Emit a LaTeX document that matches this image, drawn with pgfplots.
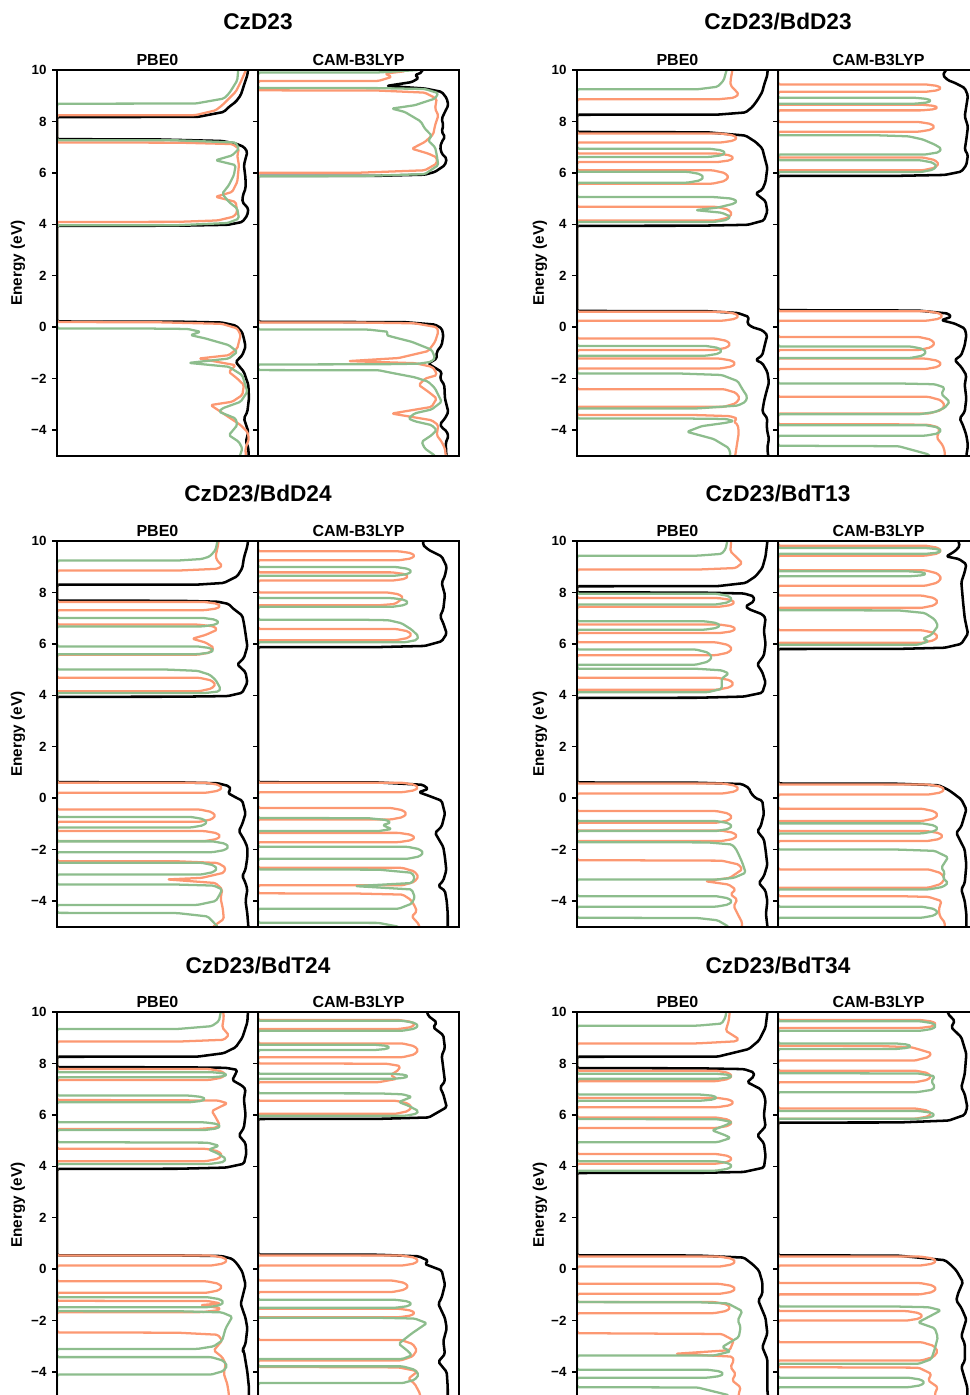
\documentclass[border=0pt]{standalone}
\usepackage{fontspec}
\setmainfont{Liberation Sans}
\usepackage{pgfplots}
\pgfplotsset{compat=1.18}
\definecolor{dosor}{RGB}{252,152,114}
\definecolor{dosgr}{RGB}{141,189,141}
\pgfplotsset{
  dosax/.style={
    scale only axis, width=150.75pt, height=289.3pt,
    xmin=0, xmax=1, ymin=-5, ymax=10,
    xtick=\empty,
    ytick={-4,-2,0,2,4,6,8,10},
    tick align=outside, major tick length=3.4pt,
    ytick pos=left,
    axis line style={line width=1.3pt},
    every tick/.style={line width=1.1pt, black},
    axis on top,
    anchor=north west,
  },
  labax/.style={yticklabels={−4,−2,0,2,4,6,8,10}, yticklabel style={font=\fontsize{10}{12}\selectfont\bfseries, xshift=-1pt}},
  nolab/.style={yticklabels={}},
  kc/.style={black, line width=1.9pt, line join=round, rounded corners=1.2pt},
  oc/.style={dosor, line width=1.7pt, line join=round, rounded corners=1.2pt},
  gc/.style={dosgr, line width=1.7pt, line join=round, rounded corners=1.2pt},
}
\newcommand{\ttl}[3]{\node[font=\fontsize{17}{20}\selectfont\bfseries] at (#1,#2) {#3};}
\newcommand{\sub}[3]{\node[font=\fontsize{12}{14}\selectfont\bfseries] at (#1,#2) {#3};}
\newcommand{\ylab}[2]{\node[rotate=90, font=\fontsize{11.5}{14}\selectfont\bfseries] at (#1,#2) {Energy (eV)};}
\begin{document}
\begin{tikzpicture}
\useasboundingbox (0,0) rectangle (727.5pt,-1046.25pt);
\clip (0,0) rectangle (727.5pt,-1046.25pt);

% ================= Panel 1: CzD23 =================
\begin{axis}[dosax, labax, at={(42.75pt,-52.5pt)}]
\addplot[kc] coordinates {(0.955,-5.3)(0.952,-4.7)(0.94,-4.45)(0.952,-4.07)(0.93,-3.55)(0.947,-3.29)(0.955,-2.77)(0.952,-2.25)(0.93,-1.74)(0.889,-1.35)(0.922,-1.09)(0.938,-0.76)(0.93,-0.44)(0.92,-0.18)(0.89,0.06)(0.82,0.18)(0.6,0.215)(0,0.22)(0,3.94)(0.6,3.945)(0.85,3.98)(0.922,4.09)(0.947,4.35)(0.952,4.61)(0.922,4.87)(0.925,5.13)(0.938,5.39)(0.938,5.78)(0.93,6.3)(0.938,6.55)(0.947,6.81)(0.93,7.01)(0.889,7.14)(0.82,7.24)(0.5,7.30)(0,7.31)(0,8.17)(0.7,8.175)(0.83,8.37)(0.855,8.56)(0.889,8.76)(0.914,9.02)(0.93,9.4)(0.947,9.8)(0.955,10.3)};
\addplot[oc] coordinates {(0.94,-5.3)(0.938,-4.72)(0.955,-4.33)(0.947,-4.07)(0.914,-3.81)(0.839,-3.42)(0.764,-3.03)(0.872,-2.9)(0.922,-2.64)(0.93,-2.25)(0.897,-2.0)(0.855,-1.74)(0.889,-1.48)(0.706,-1.22)(0.855,-1.09)(0.897,-0.83)(0.905,-0.57)(0.914,-0.31)(0.897,-0.05)(0.82,0.13)(0.5,0.19)(0,0.20)(0,4.09)(0.6,4.095)(0.8,4.15)(0.88,4.3)(0.897,4.48)(0.889,4.87)(0.789,5.07)(0.872,5.26)(0.897,5.65)(0.905,6.3)(0.897,6.68)(0.905,6.94)(0.872,7.12)(0.6,7.175)(0,7.18)(0,8.24)(0.689,8.245)(0.789,8.43)(0.822,8.63)(0.855,8.89)(0.889,9.15)(0.914,9.53)(0.94,10.0)(0.94,10.3)};
\addplot[gc] coordinates {(0.897,-5.3)(0.922,-4.72)(0.905,-4.46)(0.855,-4.2)(0.897,-3.81)(0.889,-3.55)(0.806,-3.29)(0.822,-3.16)(0.914,-2.9)(0.947,-2.51)(0.922,-1.87)(0.855,-1.54)(0.656,-1.39)(0.855,-1.22)(0.897,-0.96)(0.855,-0.7)(0.739,-0.44)(0.664,-0.31)(0.714,-0.18)(0.65,-0.07)(0.4,-0.05)(0,-0.05)(0,3.96)(0.6,3.965)(0.85,4.05)(0.905,4.22)(0.897,4.61)(0.855,4.87)(0.822,5.19)(0.855,5.52)(0.88,5.91)(0.889,6.3)(0.789,6.49)(0.872,6.68)(0.905,6.94)(0.889,7.18)(0.6,7.265)(0,7.27)(0,8.69)(0.689,8.695)(0.83,8.89)(0.855,9.08)(0.872,9.28)(0.897,9.6)(0.905,10.3)};
\end{axis}
\begin{axis}[dosax, nolab, at={(193.5pt,-52.5pt)}]
\addplot[kc] coordinates {(0.939,-5.3)(0.934,-4.5)(0.947,-4.25)(0.939,-4.05)(0.914,-3.9)(0.906,-3.77)(0.93,-3.55)(0.947,-3.3)(0.93,-2.77)(0.927,-2.25)(0.906,-2.0)(0.914,-1.74)(0.847,-1.42)(0.889,-1.22)(0.889,-0.96)(0.914,-0.7)(0.922,-0.31)(0.914,-0.05)(0.881,0.1)(0.73,0.195)(0,0.21)(0,5.88)(0.6,5.885)(0.83,5.93)(0.881,6.04)(0.93,6.3)(0.939,6.55)(0.914,6.75)(0.906,7.0)(0.914,7.2)(0.93,7.4)(0.914,7.6)(0.922,7.85)(0.914,8.1)(0.93,8.37)(0.947,8.63)(0.939,8.9)(0.914,9.15)(0.83,9.28)(0.64,9.38)(0.765,9.53)(0.8,9.69)(0.78,9.8)(0.814,9.9)(0.83,10.3)};
\addplot[oc] coordinates {(0.939,-5.3)(0.93,-4.72)(0.914,-4.46)(0.889,-4.2)(0.897,-3.81)(0.864,-3.62)(0.765,-3.49)(0.665,-3.36)(0.765,-3.23)(0.864,-3.1)(0.889,-2.77)(0.847,-2.51)(0.8,-2.25)(0.831,-2.0)(0.889,-1.87)(0.881,-1.67)(0.864,-1.54)(0.781,-1.4)(0.449,-1.32)(0.7,-1.2)(0.847,-0.93)(0.881,-0.57)(0.897,-0.18)(0.889,0.0)(0.78,0.15)(0.5,0.18)(0,0.18)(0,6.0)(0.5,6.005)(0.83,6.1)(0.889,6.36)(0.889,6.6)(0.847,6.75)(0.765,6.94)(0.83,7.2)(0.872,7.5)(0.881,7.85)(0.897,8.23)(0.881,8.5)(0.889,8.88)(0.83,9.12)(0.6,9.2)(0,9.21)(0,9.57)(0.6,9.575)(0.665,9.73)(0.632,9.86)(0.73,9.95)(0.765,10.3)};
\addplot[gc] coordinates {(0.897,-5.3)(0.881,-5.0)(0.83,-4.72)(0.814,-4.46)(0.864,-4.2)(0.889,-4.0)(0.864,-3.81)(0.78,-3.66)(0.748,-3.55)(0.78,-3.35)(0.864,-3.2)(0.914,-2.9)(0.897,-2.64)(0.881,-2.38)(0.847,-2.12)(0.78,-1.95)(0.68,-1.8)(0.6,-1.675)(0,-1.67)(0,-1.45)(0.6,-1.445)(0.8,-1.42)(0.86,-1.35)(0.881,-1.2)(0.864,-0.88)(0.765,-0.57)(0.665,-0.37)(0.638,-0.31)(0.648,-0.18)(0.55,-0.095)(0,-0.09)(0,5.87)(0.5,5.875)(0.83,5.95)(0.897,6.3)(0.889,6.7)(0.881,7.0)(0.847,7.25)(0.864,7.45)(0.83,7.72)(0.81,8.0)(0.73,8.37)(0.665,8.5)(0.78,8.63)(0.881,8.89)(0.897,9.1)(0.83,9.26)(0.6,9.295)(0,9.30)(0,9.9)(0.6,9.905)(0.8,10.0)(0.81,10.3)};
\end{axis}

% ================= Panel 2: CzD23/BdD23 =================
\begin{axis}[dosax, labax, at={(432.75pt,-52.5pt)}]
\addplot[kc] coordinates {(0.955,-5.3)(0.947,-4.7)(0.955,-4.33)(0.947,-4.07)(0.944,-3.81)(0.947,-3.55)(0.922,-3.29)(0.93,-2.9)(0.938,-2.64)(0.955,-2.15)(0.947,-1.74)(0.922,-1.4)(0.889,-1.28)(0.922,-1.09)(0.93,-0.83)(0.938,-0.57)(0.947,-0.31)(0.922,-0.12)(0.872,0.0)(0.847,0.14)(0.855,0.4)(0.8,0.55)(0.65,0.62)(0,0.63)(0,3.94)(0.6,3.945)(0.85,3.98)(0.93,4.15)(0.947,4.5)(0.938,4.9)(0.889,5.2)(0.922,5.35)(0.938,5.65)(0.947,6.2)(0.93,6.7)(0.922,6.95)(0.889,7.2)(0.839,7.45)(0.65,7.575)(0,7.59)(0,8.26)(0.7,8.265)(0.839,8.35)(0.872,8.56)(0.897,8.82)(0.922,9.15)(0.93,9.4)(0.947,9.8)(0.95,10.3)};
\addplot[oc] coordinates {(0.78,-5.3)(0.789,-4.9)(0.797,-4.5)(0.805,-4.1)(0.8,-3.8)(0.78,-3.67)(0.797,-3.55)(0.76,-3.46)(0.6,-3.42)(0,-3.42)
(0,-3.10)(0.73,-3.10)(0.79,-2.962)(0.81,-2.755)(0.79,-2.548)(0.73,-2.41)(0,-2.41)
(0,-1.61)(0.709,-1.61)(0.769,-1.532)(0.789,-1.415)(0.769,-1.298)(0.709,-1.22)(0,-1.22)
(0,-0.89)(0.684,-0.89)(0.744,-0.80)(0.764,-0.665)(0.744,-0.53)(0.684,-0.44)(0,-0.44)
(0,0.25)(0.725,0.25)(0.785,0.32)(0.805,0.425)(0.785,0.53)(0.725,0.60)(0,0.60)
(0,4.15)(0.692,4.15)(0.752,4.256)(0.772,4.415)(0.752,4.574)(0.692,4.68)(0,4.68)
(0,5.58)(0.675,5.58)(0.735,5.684)(0.755,5.84)(0.735,5.996)(0.675,6.10)(0,6.10)
(0,6.42)(0.70,6.42)(0.76,6.486)(0.78,6.585)(0.76,6.684)(0.70,6.75)(0,6.75)
(0,7.18)(0.717,7.18)(0.777,7.25)(0.797,7.355)(0.777,7.46)(0.717,7.53)(0,7.53)
(0,8.86)(0.7,8.86)(0.78,8.92)(0.805,9.05)(0.789,9.2)(0.764,9.4)(0.764,9.6)(0.78,10.3)};
\addplot[gc] coordinates {(0.75,-5.3)(0.764,-4.95)(0.755,-4.7)(0.68,-4.35)(0.547,-4.07)(0.62,-3.85)(0.74,-3.72)(0.78,-3.65)(0.74,-3.57)(0.5,-3.55)(0,-3.55)
(0,-3.16)(0.6,-3.16)(0.8,-3.05)(0.839,-2.9)(0.847,-2.7)(0.822,-2.4)(0.8,-2.1)(0.72,-1.86)(0.5,-1.80)(0,-1.80)
(0,-1.11)(0.642,-1.11)(0.702,-1.034)(0.722,-0.92)(0.702,-0.806)(0.642,-0.73)(0,-0.73)
(0,4.09)(0.68,4.09)(0.745,4.17)(0.764,4.3)(0.72,4.45)(0.59,4.55)(0.70,4.65)(0.78,4.8)(0.797,4.9)(0.77,5.0)(0.68,5.06)(0,5.06)
(0,5.62)(0.551,5.62)(0.611,5.704)(0.631,5.83)(0.611,5.956)(0.551,6.04)(0,6.04)
(0,6.62)(0.659,6.62)(0.719,6.684)(0.739,6.78)(0.719,6.876)(0.659,6.94)(0,6.94)
(0,9.25)(0.6,9.25)(0.70,9.35)(0.73,9.6)(0.755,10.3)};
\end{axis}
\begin{axis}[dosax, nolab, at={(583.5pt,-52.5pt)}]
\addplot[kc] coordinates {(0.945,-5.3)(0.937,-5.0)(0.945,-4.6)(0.937,-4.2)(0.92,-3.81)(0.904,-3.55)(0.929,-3.29)(0.937,-2.77)(0.929,-2.25)(0.937,-1.87)(0.912,-1.55)(0.879,-1.28)(0.912,-1.09)(0.929,-0.7)(0.937,-0.31)(0.929,-0.05)(0.879,0.14)(0.813,0.27)(0.862,0.4)(0.846,0.53)(0.7,0.645)(0,0.66)(0,5.88)(0.6,5.885)(0.83,5.92)(0.912,6.05)(0.937,6.3)(0.945,6.7)(0.929,6.9)(0.937,7.3)(0.945,7.8)(0.929,8.2)(0.937,8.6)(0.945,9.0)(0.929,9.3)(0.88,9.5)(0.846,9.6)(0.821,9.79)(0.83,9.95)(0.88,10.3)};
\addplot[oc] coordinates {(0.83,-5.3)(0.83,-4.85)(0.82,-4.6)(0.79,-4.3)(0.80,-4.1)(0.80,-3.9)(0.75,-3.8)(0.6,-3.78)(0,-3.78)
(0,-3.36)(0.75,-3.36)(0.81,-3.23)(0.83,-3.035)(0.81,-2.84)(0.75,-2.71)(0,-2.71)
(0,-1.63)(0.733,-1.63)(0.793,-1.548)(0.813,-1.425)(0.793,-1.302)(0.733,-1.22)(0,-1.22)
(0,-0.89)(0.70,-0.89)(0.76,-0.788)(0.78,-0.635)(0.76,-0.482)(0.70,-0.38)(0,-0.38)
(0,0.25)(0.74,0.25)(0.80,0.324)(0.82,0.435)(0.80,0.546)(0.74,0.62)(0,0.62)
(0,6.1)(0.72,6.1)(0.78,6.2)(0.80,6.35)(0.78,6.5)(0.72,6.6)(0,6.6)
(0,7.6)(0.70,7.6)(0.76,7.676)(0.78,7.79)(0.76,7.904)(0.70,7.98)(0,7.98)
(0,8.43)(0.716,8.43)(0.776,8.474)(0.796,8.54)(0.776,8.606)(0.716,8.65)(0,8.65)
(0,9.15)(0.733,9.15)(0.793,9.208)(0.813,9.295)(0.793,9.382)(0.733,9.44)(0,9.44)(0,10.3)};
\addplot[gc] coordinates {(0.78,-5.3)(0.75,-4.95)(0.6,-4.63)(0,-4.61)
(0,-4.22)(0.733,-4.22)(0.793,-4.138)(0.813,-4.015)(0.793,-3.892)(0.733,-3.81)(0,-3.81)
(0,-3.39)(0.7,-3.39)(0.78,-3.3)(0.829,-3.14)(0.854,-2.9)(0.813,-2.6)(0.829,-2.35)(0.78,-2.22)(0.6,-2.19)(0,-2.19)
(0,-1.2)(0.658,-1.2)(0.718,-1.11)(0.738,-0.975)(0.718,-0.84)(0.658,-0.75)(0,-0.75)
(0,6.03)(0.71,6.03)(0.77,6.122)(0.79,6.26)(0.77,6.398)(0.71,6.49)(0,6.49)
(0,6.71)(0.73,6.71)(0.80,6.8)(0.813,6.94)(0.78,7.1)(0.72,7.3)(0.65,7.42)(0.5,7.46)(0,7.46)
(0,8.69)(0.683,8.69)(0.743,8.736)(0.763,8.805)(0.743,8.874)(0.683,8.92)(0,8.92)(0,10.3)};
\end{axis}

% ================= Panel 3: CzD23/BdD24 =================
\begin{axis}[dosax, labax, at={(42.75pt,-405.75pt)}]
\addplot[kc] coordinates {(0.955,-5.3)(0.947,-4.5)(0.938,-4.0)(0.947,-3.55)(0.938,-3.3)(0.922,-3.03)(0.938,-2.77)(0.947,-2.3)(0.947,-1.9)(0.93,-1.6)(0.905,-1.28)(0.922,-1.0)(0.938,-0.6)(0.922,-0.1)(0.889,0.03)(0.85,0.2)(0.864,0.34)(0.855,0.47)(0.8,0.58)(0.6,0.615)(0,0.62)(0,3.94)(0.6,3.945)(0.85,3.97)(0.922,4.1)(0.947,4.5)(0.938,4.9)(0.897,5.2)(0.93,5.45)(0.947,5.9)(0.938,6.4)(0.93,6.8)(0.922,7.1)(0.872,7.4)(0.855,7.55)(0.8,7.64)(0.6,7.675)(0,7.68)(0,8.30)(0.7,8.305)(0.83,8.37)(0.897,8.63)(0.922,8.95)(0.93,9.35)(0.947,9.8)(0.955,10.3)};
\addplot[oc] coordinates {(0.78,-5.3)(0.775,-5.0)(0.83,-4.7)(0.825,-4.3)(0.814,-3.9)(0.822,-3.55)(0.789,-3.3)(0.548,-3.16)(0.72,-3.1)(0.83,-2.9)(0.839,-2.7)(0.8,-2.52)(0.6,-2.455)(0,-2.45)
(0,-1.67)(0.734,-1.67)(0.794,-1.592)(0.814,-1.475)(0.794,-1.358)(0.734,-1.28)(0,-1.28)
(0,-0.92)(0.709,-0.92)(0.769,-0.824)(0.789,-0.68)(0.769,-0.536)(0.709,-0.44)(0,-0.44)
(0,0.21)(0.742,0.21)(0.802,0.288)(0.822,0.405)(0.802,0.522)(0.742,0.60)(0,0.60)
(0,4.16)(0.709,4.16)(0.769,4.264)(0.789,4.42)(0.769,4.576)(0.709,4.68)(0,4.68)
(0,5.58)(0.7,5.58)(0.76,5.66)(0.78,5.85)(0.74,6.05)(0.673,6.2)(0.74,6.35)(0.797,6.55)(0.78,6.68)(0.7,6.75)(0,6.75)
(0,7.31)(0.734,7.31)(0.794,7.374)(0.814,7.47)(0.794,7.566)(0.734,7.63)(0,7.63)
(0,8.85)(0.6,8.85)(0.8,8.92)(0.822,9.05)(0.8,9.2)(0.789,9.4)(0.8,9.8)(0.81,10.3)};
\addplot[gc] coordinates {(0.80,-5.3)(0.80,-5.0)(0.75,-4.6)(0.6,-4.47)(0,-4.46)
(0,-4.15)(0.7,-4.15)(0.79,-4.0)(0.806,-3.8)(0.822,-3.55)(0.78,-3.4)(0.6,-3.36)(0,-3.36)
(0,-2.97)(0.717,-2.97)(0.777,-2.878)(0.797,-2.74)(0.777,-2.602)(0.717,-2.51)(0,-2.51)
(0,-2.1)(0.775,-2.1)(0.835,-2.016)(0.855,-1.89)(0.835,-1.764)(0.775,-1.68)(0,-1.68)
(0,-1.14)(0.667,-1.14)(0.727,-1.058)(0.747,-0.935)(0.727,-0.812)(0.667,-0.73)(0,-0.73)
(0,4.09)(0.74,4.09)(0.805,4.15)(0.814,4.25)(0.80,4.45)(0.789,4.6)(0.76,4.8)(0.7,4.95)(0.55,5.0)(0,5.0)
(0,5.6)(0.70,5.6)(0.76,5.66)(0.78,5.75)(0.76,5.84)(0.70,5.9)(0,5.9)
(0,6.68)(0.726,6.68)(0.786,6.746)(0.806,6.845)(0.786,6.944)(0.726,7.01)(0,7.01)
(0,9.24)(0.6,9.24)(0.72,9.3)(0.76,9.4)(0.789,9.65)(0.806,10.3)};
\end{axis}
\begin{axis}[dosax, nolab, at={(193.5pt,-405.75pt)}]
\addplot[kc] coordinates {(0.944,-5.3)(0.944,-4.5)(0.939,-4.0)(0.93,-3.6)(0.897,-3.42)(0.922,-3.2)(0.937,-2.8)(0.93,-2.3)(0.922,-1.9)(0.881,-1.35)(0.914,-1.1)(0.93,-0.6)(0.914,-0.1)(0.847,0.1)(0.8,0.23)(0.847,0.36)(0.82,0.52)(0.6,0.61)(0,0.62)(0,5.87)(0.6,5.875)(0.83,5.92)(0.914,6.1)(0.939,6.4)(0.922,6.8)(0.906,7.07)(0.922,7.35)(0.93,7.9)(0.914,8.37)(0.93,8.65)(0.939,9.0)(0.914,9.4)(0.85,9.65)(0.82,9.85)(0.83,10.3)};
\addplot[oc] coordinates {(0.81,-5.3)(0.80,-4.9)(0.765,-4.6)(0.79,-4.4)(0.78,-4.2)(0.76,-3.95)(0.72,-3.75)(0.5,-3.71)(0,-3.70)
(0,-3.39)(0.718,-3.39)(0.778,-3.254)(0.798,-3.05)(0.778,-2.846)(0.718,-2.71)(0,-2.71)
(0,-1.71)(0.701,-1.71)(0.761,-1.638)(0.781,-1.53)(0.761,-1.422)(0.701,-1.35)(0,-1.35)
(0,-0.83)(0.66,-0.83)(0.72,-0.74)(0.74,-0.605)(0.72,-0.47)(0.66,-0.38)(0,-0.38)
(0,0.23)(0.718,0.23)(0.778,0.304)(0.798,0.415)(0.778,0.526)(0.718,0.6)(0,0.6)
(0,6.14)(0.685,6.14)(0.745,6.228)(0.765,6.36)(0.745,6.492)(0.685,6.58)(0,6.58)
(0,7.5)(0.6,7.5)(0.68,7.55)(0.70,7.65)(0.723,7.8)(0.70,7.93)(0.643,8.0)(0,8.0)
(0,8.46)(0.668,8.46)(0.728,8.524)(0.748,8.62)(0.728,8.716)(0.668,8.78)(0,8.78)
(0,9.25)(0.701,9.25)(0.761,9.32)(0.781,9.425)(0.761,9.53)(0.701,9.6)(0,9.6)(0,10.3)};
\addplot[gc] coordinates {(0.72,-5.3)(0.70,-5.0)(0.6,-4.85)(0,-4.84)
(0,-4.3)(0.7,-4.3)(0.765,-4.1)(0.78,-3.85)(0.765,-3.55)(0.483,-3.42)(0.765,-3.3)(0.78,-3.1)(0.765,-2.9)(0.6,-2.78)(0,-2.77)
(0,-2.36)(0.743,-2.36)(0.803,-2.266)(0.823,-2.125)(0.803,-1.984)(0.743,-1.89)(0,-1.89)
(0,-1.28)(0.6,-1.28)(0.665,-1.2)(0.62,-1.05)(0.66,-0.95)(0.64,-0.85)(0.55,-0.78)(0,-0.77)
(0,6.06)(0.73,6.06)(0.79,6.15)(0.798,6.3)(0.765,6.55)(0.715,6.8)(0.65,6.92)(0.5,6.94)(0,6.94)
(0,7.44)(0.668,7.44)(0.728,7.508)(0.748,7.61)(0.728,7.712)(0.668,7.78)(0,7.78)
(0,8.65)(0.685,8.65)(0.745,8.718)(0.765,8.82)(0.745,8.922)(0.685,8.99)(0,8.99)(0,10.3)};
\end{axis}

% ================= Panel 4: CzD23/BdT13 =================
\begin{axis}[dosax, labax, at={(432.75pt,-405.75pt)}]
\addplot[kc] coordinates {(0.952,-5.3)(0.94,-4.5)(0.947,-4.0)(0.938,-3.6)(0.905,-3.3)(0.93,-3.03)(0.947,-2.6)(0.938,-2.0)(0.93,-1.6)(0.897,-1.28)(0.914,-1.1)(0.93,-0.6)(0.922,-0.1)(0.889,0.0)(0.865,0.2)(0.855,0.4)(0.82,0.55)(0.6,0.6)(0,0.61)(0,3.90)(0.6,3.905)(0.83,3.95)(0.922,4.1)(0.938,4.5)(0.922,4.9)(0.897,5.2)(0.93,5.55)(0.938,6.0)(0.93,6.5)(0.938,7.0)(0.922,7.15)(0.855,7.35)(0.839,7.46)(0.88,7.65)(0.879,7.85)(0.83,7.96)(0.6,7.995)(0,8.0)(0,8.24)(0.7,8.245)(0.839,8.37)(0.889,8.63)(0.922,8.95)(0.938,9.4)(0.952,10.3)};
\addplot[oc] coordinates {(0.815,-5.3)(0.822,-4.84)(0.805,-4.59)(0.78,-4.2)(0.797,-3.94)(0.764,-3.74)(0.789,-3.55)(0.755,-3.36)(0.639,-3.23)(0.76,-3.1)(0.822,-2.77)(0.805,-2.58)(0.72,-2.43)(0,-2.41)
(0,-1.67)(0.717,-1.67)(0.777,-1.588)(0.797,-1.465)(0.777,-1.342)(0.717,-1.26)(0,-1.26)
(0,-0.96)(0.692,-0.96)(0.752,-0.868)(0.772,-0.73)(0.752,-0.592)(0.692,-0.5)(0,-0.5)
(0,0.18)(0.725,0.18)(0.785,0.258)(0.805,0.375)(0.785,0.492)(0.725,0.57)(0,0.57)
(0,4.22)(0.70,4.22)(0.76,4.312)(0.78,4.45)(0.76,4.588)(0.70,4.68)(0,4.68)
(0,5.56)(0.692,5.56)(0.752,5.66)(0.772,5.81)(0.752,5.96)(0.692,6.06)(0,6.06)
(0,6.42)(0.71,6.42)(0.77,6.486)(0.79,6.585)(0.77,6.684)(0.71,6.75)(0,6.75)
(0,7.44)(0.705,7.44)(0.765,7.508)(0.785,7.61)(0.765,7.712)(0.705,7.78)(0,7.78)
(0,8.89)(0.6,8.89)(0.79,8.95)(0.822,9.15)(0.789,9.4)(0.763,9.6)(0.77,10.3)};
\addplot[gc] coordinates {(0.75,-5.3)(0.755,-5.0)(0.7,-4.75)(0.6,-4.66)(0,-4.65)
(0,-4.22)(0.692,-4.22)(0.752,-4.138)(0.772,-4.015)(0.752,-3.892)(0.692,-3.81)(0,-3.81)
(0,-3.16)(0.7,-3.16)(0.78,-3.1)(0.839,-2.9)(0.822,-2.5)(0.805,-2.2)(0.789,-1.95)(0.77,-1.8)(0.65,-1.72)(0,-1.71)
(0,-1.28)(0.692,-1.28)(0.752,-1.202)(0.772,-1.085)(0.752,-0.968)(0.692,-0.89)(0,-0.89)
(0,4.12)(0.65,4.12)(0.72,4.25)(0.72,4.45)(0.72,4.65)(0.755,4.85)(0.72,4.97)(0.6,5.03)(0,5.03)
(0,5.19)(0.592,5.19)(0.652,5.308)(0.672,5.485)(0.652,5.662)(0.592,5.78)(0,5.78)
(0,6.55)(0.633,6.55)(0.693,6.616)(0.713,6.715)(0.693,6.814)(0.633,6.88)(0,6.88)
(0,7.53)(0.692,7.53)(0.752,7.614)(0.772,7.74)(0.752,7.866)(0.692,7.95)(0,7.95)
(0,9.43)(0.6,9.43)(0.72,9.5)(0.74,9.7)(0.755,10.3)};
\end{axis}
\begin{axis}[dosax, nolab, at={(583.5pt,-405.75pt)}]
\addplot[kc] coordinates {(0.937,-5.3)(0.937,-4.5)(0.929,-4.0)(0.912,-3.55)(0.929,-3.3)(0.937,-2.6)(0.929,-2.0)(0.887,-1.35)(0.912,-1.1)(0.937,-0.44)(0.912,-0.05)(0.87,0.2)(0.846,0.33)(0.8,0.5)(0.6,0.56)(0,0.57)(0,5.8)(0.6,5.805)(0.83,5.85)(0.912,6.0)(0.945,6.4)(0.929,7.0)(0.921,7.6)(0.912,8.4)(0.929,8.8)(0.937,9.1)(0.9,9.3)(0.837,9.4)(0.88,9.6)(0.904,9.8)(0.887,10.3)};
\addplot[oc] coordinates {(0.83,-5.3)(0.83,-4.84)(0.805,-4.59)(0.80,-4.33)(0.813,-4.0)(0.75,-3.84)(0.6,-3.81)(0,-3.81)
(0,-3.48)(0.75,-3.48)(0.81,-3.338)(0.83,-3.125)(0.81,-2.912)(0.75,-2.77)(0,-2.77)
(0,-1.67)(0.741,-1.67)(0.801,-1.592)(0.821,-1.475)(0.801,-1.358)(0.741,-1.28)(0,-1.28)
(0,-0.89)(0.716,-0.89)(0.776,-0.794)(0.796,-0.65)(0.776,-0.506)(0.716,-0.41)(0,-0.41)
(0,0.14)(0.749,0.14)(0.809,0.218)(0.829,0.335)(0.809,0.452)(0.749,0.53)(0,0.53)
(0,6.04)(0.716,6.04)(0.776,6.138)(0.796,6.285)(0.776,6.432)(0.716,6.53)(0,6.53)
(0,7.4)(0.716,7.4)(0.776,7.496)(0.796,7.64)(0.776,7.784)(0.716,7.88)(0,7.88)
(0,8.26)(0.733,8.26)(0.793,8.38)(0.813,8.56)(0.793,8.74)(0.733,8.86)(0,8.86)
(0,9.43)(0.733,9.43)(0.793,9.508)(0.813,9.625)(0.793,9.742)(0.733,9.82)(0,9.82)(0,10.3)};
\addplot[gc] coordinates {(0,-5.3)(0,-4.65)(0.716,-4.65)(0.776,-4.564)(0.796,-4.435)(0.776,-4.306)(0.716,-4.22)(0,-4.22)
(0,-3.55)(0.75,-3.55)(0.82,-3.45)(0.846,-3.3)(0.82,-3.1)(0.83,-2.9)(0.813,-2.7)(0.846,-2.3)(0.78,-2.05)(0.6,-2.0)(0,-2.0)
(0,-1.37)(0.716,-1.37)(0.776,-1.292)(0.796,-1.175)(0.776,-1.058)(0.716,-0.98)(0,-0.98)
(0,5.97)(0.7,5.97)(0.75,6.1)(0.72,6.2)(0.763,6.35)(0.796,6.7)(0.78,6.95)(0.73,7.2)(0.6,7.3)(0,7.31)
(0,8.63)(0.658,8.63)(0.718,8.668)(0.738,8.725)(0.718,8.782)(0.658,8.82)(0,8.82)
(0,9.5)(0.733,9.5)(0.793,9.546)(0.813,9.615)(0.793,9.684)(0.733,9.73)(0,9.73)(0,10.3)};
\end{axis}

% ================= Panel 5: CzD23/BdT24 =================
\begin{axis}[dosax, labax, at={(42.75pt,-759pt)}]
\addplot[kc] coordinates {(0.955,-5.3)(0.955,-4.6)(0.947,-4.0)(0.93,-3.2)(0.922,-3.16)(0.938,-2.9)(0.947,-2.3)(0.938,-1.9)(0.914,-1.35)(0.922,-1.1)(0.938,-0.6)(0.922,-0.1)(0.897,0.2)(0.872,0.4)(0.82,0.51)(0.6,0.535)(0,0.54)(0,3.9)(0.6,3.905)(0.84,3.95)(0.93,4.1)(0.942,4.5)(0.938,4.9)(0.905,5.2)(0.93,5.5)(0.938,6.0)(0.93,6.6)(0.938,7.0)(0.922,7.13)(0.872,7.35)(0.889,7.6)(0.897,7.75)(0.84,7.83)(0.6,7.85)(0,7.855)(0,8.26)(0.7,8.265)(0.83,8.4)(0.889,8.63)(0.922,9.0)(0.947,9.6)(0.952,10.3)};
\addplot[oc] coordinates {(0.85,-5.3)(0.855,-4.84)(0.847,-4.46)(0.83,-4.07)(0.839,-3.68)(0.822,-3.42)(0.78,-3.16)(0.822,-2.77)(0.80,-2.55)(0.6,-2.47)(0,-2.46)
(0,-1.67)(0.72,-1.67)(0.8,-1.6)(0.814,-1.52)(0.714,-1.4)(0.814,-1.33)(0.75,-1.24)(0,-1.23)
(0,-0.92)(0.742,-0.92)(0.802,-0.83)(0.822,-0.695)(0.802,-0.56)(0.742,-0.47)(0,-0.47)
(0,0.14)(0.767,0.14)(0.827,0.218)(0.847,0.335)(0.827,0.452)(0.767,0.53)(0,0.53)
(0,4.2)(0.742,4.2)(0.802,4.296)(0.822,4.44)(0.802,4.584)(0.742,4.68)(0,4.68)
(0,5.45)(0.7,5.45)(0.79,5.5)(0.81,5.6)(0.79,5.9)(0.77,6.15)(0.848,6.45)(0.80,6.56)(0,6.58)
(0,7.36)(0.759,7.36)(0.819,7.444)(0.839,7.57)(0.819,7.696)(0.759,7.78)(0,7.78)
(0,8.85)(0.6,8.85)(0.83,8.92)(0.855,9.1)(0.822,9.4)(0.83,9.8)(0.822,10.3)};
\addplot[gc] coordinates {(0,-5.3)(0,-4.1)(0.767,-4.1)(0.827,-3.964)(0.847,-3.76)(0.827,-3.556)(0.767,-3.42)(0,-3.42)
(0,-3.1)(0.7,-3.1)(0.78,-3.0)(0.822,-2.77)(0.839,-2.3)(0.872,-1.85)(0.82,-1.68)(0.6,-1.635)(0,-1.63)
(0,-1.48)(0.75,-1.48)(0.81,-1.402)(0.83,-1.285)(0.81,-1.168)(0.75,-1.09)(0,-1.09)
(0,4.09)(0.76,4.09)(0.83,4.17)(0.84,4.3)(0.80,4.5)(0.755,4.65)(0.806,4.8)(0.75,4.92)(0,4.94)
(0,5.41)(0.734,5.41)(0.794,5.47)(0.814,5.56)(0.794,5.65)(0.734,5.71)(0,5.71)
(0,6.49)(0.659,6.49)(0.719,6.542)(0.739,6.62)(0.719,6.698)(0.659,6.75)(0,6.75)
(0,7.46)(0.767,7.46)(0.827,7.5)(0.847,7.56)(0.827,7.62)(0.767,7.66)(0,7.66)
(0,9.34)(0.6,9.34)(0.77,9.45)(0.806,9.65)(0.822,10.3)};
\end{axis}
\begin{axis}[dosax, nolab, at={(193.5pt,-759pt)}]
\addplot[kc] coordinates {(0.944,-5.3)(0.944,-4.6)(0.939,-4.0)(0.897,-3.6)(0.93,-3.3)(0.922,-2.8)(0.939,-2.3)(0.93,-1.9)(0.897,-1.35)(0.914,-1.1)(0.93,-0.6)(0.914,-0.05)(0.83,0.2)(0.847,0.33)(0.8,0.5)(0.6,0.56)(0,0.57)(0,5.84)(0.6,5.845)(0.85,5.9)(0.939,6.3)(0.922,6.8)(0.906,7.07)(0.93,7.3)(0.922,7.8)(0.914,8.3)(0.93,8.6)(0.922,9.1)(0.872,9.4)(0.889,9.6)(0.847,9.85)(0.83,10.3)};
\addplot[oc] coordinates {(0.81,-5.3)(0.806,-4.84)(0.78,-4.46)(0.748,-4.26)(0.795,-3.97)(0.7,-3.82)(0,-3.80)
(0,-3.55)(0.71,-3.55)(0.77,-3.39)(0.79,-3.15)(0.77,-2.91)(0.71,-2.75)(0,-2.75)
(0,-1.87)(0.701,-1.87)(0.761,-1.804)(0.781,-1.705)(0.761,-1.606)(0.701,-1.54)(0,-1.54)
(0,-0.89)(0.668,-0.89)(0.728,-0.8)(0.748,-0.665)(0.728,-0.53)(0.668,-0.44)(0,-0.44)
(0,0.14)(0.718,0.14)(0.778,0.218)(0.798,0.335)(0.778,0.452)(0.718,0.53)(0,0.53)
(0,6.04)(0.685,6.04)(0.745,6.142)(0.765,6.295)(0.745,6.448)(0.685,6.55)(0,6.55)
(0,7.27)(0.6,7.27)(0.69,7.4)(0.66,7.55)(0.70,7.75)(0.707,7.9)(0.64,7.99)(0,8.0)
(0,8.24)(0.718,8.24)(0.778,8.348)(0.798,8.51)(0.778,8.672)(0.718,8.78)(0,8.78)
(0,9.34)(0.701,9.34)(0.761,9.41)(0.781,9.515)(0.761,9.62)(0.701,9.69)(0,9.69)(0,10.3)};
\addplot[gc] coordinates {(0,-5.3)(0,-4.43)(0.72,-4.43)(0.78,-4.3)(0.80,-4.105)(0.78,-3.91)(0.72,-3.78)(0,-3.78)
(0,-3.49)(0.72,-3.49)(0.765,-3.35)(0.748,-3.2)(0.70,-2.9)(0.765,-2.5)(0.84,-2.1)(0.78,-1.92)(0.6,-1.89)(0,-1.89)
(0,-1.5)(0.685,-1.5)(0.745,-1.438)(0.765,-1.345)(0.745,-1.252)(0.685,-1.19)(0,-1.19)
(0,5.97)(0.74,5.97)(0.79,6.05)(0.798,6.15)(0.75,6.35)(0.70,6.5)(0.765,6.7)(0.72,6.8)(0.6,6.835)(0,6.84)
(0,7.4)(0.668,7.4)(0.728,7.44)(0.748,7.5)(0.728,7.56)(0.668,7.6)(0,7.6)
(0,8.52)(0.577,8.52)(0.637,8.562)(0.657,8.625)(0.637,8.688)(0.577,8.73)(0,8.73)
(0,9.27)(0.718,9.27)(0.778,9.348)(0.798,9.465)(0.778,9.582)(0.718,9.66)(0,9.66)(0,10.3)};
\end{axis}

% ================= Panel 6: CzD23/BdT34 =================
\begin{axis}[dosax, labax, at={(432.75pt,-759pt)}]
\addplot[kc] coordinates {(0.955,-5.3)(0.947,-4.7)(0.947,-4.0)(0.947,-3.5)(0.922,-3.03)(0.947,-2.5)(0.938,-1.9)(0.902,-1.22)(0.922,-0.96)(0.922,-0.5)(0.905,-0.05)(0.872,0.2)(0.83,0.45)(0.6,0.53)(0,0.54)(0,3.74)(0.6,3.745)(0.83,3.78)(0.93,3.95)(0.938,4.4)(0.93,4.9)(0.897,5.2)(0.938,5.55)(0.93,6.0)(0.938,6.55)(0.93,6.8)(0.914,7.0)(0.847,7.27)(0.88,7.5)(0.88,7.65)(0.83,7.78)(0.6,7.81)(0,7.82)(0,8.26)(0.7,8.265)(0.855,8.56)(0.905,8.89)(0.938,9.4)(0.952,10.3)};
\addplot[oc] coordinates {(0.80,-5.3)(0.805,-4.84)(0.814,-4.59)(0.772,-4.33)(0.789,-4.07)(0.764,-3.81)(0.78,-3.55)(0.772,-3.4)(0.49,-3.29)(0.76,-3.15)(0.78,-2.77)(0.72,-2.52)(0,-2.49)
(0,-1.71)(0.684,-1.71)(0.744,-1.624)(0.764,-1.495)(0.744,-1.366)(0.684,-1.28)(0,-1.28)
(0,-0.96)(0.709,-0.96)(0.769,-0.882)(0.789,-0.765)(0.769,-0.648)(0.709,-0.57)(0,-0.57)
(0,0.1)(0.709,0.1)(0.769,0.178)(0.789,0.295)(0.769,0.412)(0.709,0.49)(0,0.49)
(0,4.1)(0.692,4.1)(0.752,4.176)(0.772,4.29)(0.752,4.404)(0.692,4.48)(0,4.48)
(0,5.49)(0.692,5.49)(0.752,5.572)(0.772,5.695)(0.752,5.818)(0.692,5.9)(0,5.9)
(0,6.3)(0.70,6.3)(0.76,6.372)(0.78,6.48)(0.76,6.588)(0.70,6.66)(0,6.66)
(0,7.31)(0.692,7.31)(0.752,7.392)(0.772,7.515)(0.752,7.638)(0.692,7.72)(0,7.72)
(0,8.78)(0.6,8.78)(0.79,8.86)(0.805,8.95)(0.74,9.27)(0.755,9.66)(0.764,10.3)};
\addplot[gc] coordinates {(0.76,-5.3)(0.755,-4.9)(0.6,-4.6)(0,-4.59)
(0,-4.22)(0.65,-4.22)(0.71,-4.158)(0.73,-4.065)(0.71,-3.972)(0.65,-3.91)(0,-3.91)
(0,-3.36)(0.68,-3.36)(0.764,-3.2)(0.722,-3.03)(0.805,-2.64)(0.814,-2.25)(0.80,-1.99)(0.822,-1.63)(0.75,-1.33)(0.6,-1.285)(0,-1.28)
(0,3.83)(0.692,3.83)(0.752,3.904)(0.772,4.015)(0.752,4.126)(0.692,4.2)(0,4.2)
(0,4.94)(0.7,4.94)(0.764,5.1)(0.74,5.2)(0.672,5.4)(0.74,5.6)(0.772,5.72)(0.7,5.83)(0,5.84)
(0,6.55)(0.617,6.55)(0.677,6.598)(0.697,6.67)(0.677,6.742)(0.617,6.79)(0,6.79)
(0,7.4)(0.692,7.4)(0.752,7.44)(0.772,7.5)(0.752,7.56)(0.692,7.6)(0,7.6)
(0,9.47)(0.6,9.47)(0.72,9.55)(0.739,9.8)(0.747,10.3)};
\end{axis}
\begin{axis}[dosax, nolab, at={(583.5pt,-759pt)}]
\addplot[kc] coordinates {(0.942,-5.3)(0.942,-4.6)(0.912,-3.8)(0.93,-3.55)(0.929,-2.9)(0.912,-2.6)(0.937,-1.95)(0.912,-1.5)(0.887,-1.22)(0.895,-0.96)(0.92,-0.5)(0.887,-0.05)(0.855,0.2)(0.83,0.35)(0.6,0.525)(0,0.54)(0,5.7)(0.6,5.705)(0.85,5.78)(0.929,6.0)(0.942,6.3)(0.929,6.81)(0.912,7.07)(0.929,7.59)(0.937,8.37)(0.912,9.02)(0.862,9.4)(0.879,9.66)(0.846,9.92)(0.84,10.3)};
\addplot[oc] coordinates {(0.79,-5.3)(0.78,-4.84)(0.795,-4.59)(0.747,-4.33)(0.763,-4.07)(0.7,-3.83)(0,-3.81)
(0,-3.55)(0.715,-3.55)(0.775,-3.408)(0.795,-3.195)(0.775,-2.982)(0.715,-2.84)(0,-2.84)
(0,-2.0)(0.64,-2.0)(0.70,-1.926)(0.72,-1.815)(0.70,-1.704)(0.64,-1.63)(0,-1.63)
(0,-0.98)(0.708,-0.98)(0.768,-0.892)(0.788,-0.76)(0.768,-0.628)(0.708,-0.54)(0,-0.54)
(0,0.14)(0.708,0.14)(0.768,0.21)(0.788,0.315)(0.768,0.42)(0.708,0.49)(0,0.49)
(0,5.85)(0.683,5.85)(0.743,5.93)(0.763,6.05)(0.743,6.17)(0.683,6.25)(0,6.25)
(0,7.27)(0.683,7.27)(0.743,7.36)(0.763,7.495)(0.743,7.63)(0.683,7.72)(0,7.72)
(0,8.11)(0.68,8.11)(0.75,8.25)(0.763,8.4)(0.70,8.55)(0.663,8.63)(0.5,8.68)(0,8.69)
(0,9.38)(0.708,9.38)(0.768,9.442)(0.788,9.535)(0.768,9.628)(0.708,9.69)(0,9.69)(0,10.3)};
\addplot[gc] coordinates {(0,-5.3)(0,-4.59)(0.65,-4.59)(0.71,-4.516)(0.73,-4.405)(0.71,-4.294)(0.65,-4.22)(0,-4.22)
(0,-3.68)(0.7,-3.68)(0.763,-3.5)(0.78,-3.1)(0.795,-2.64)(0.78,-2.3)(0.697,-2.07)(0.78,-1.73)(0.81,-1.6)(0.75,-1.48)(0.6,-1.455)(0,-1.45)
(0,5.85)(0.70,5.85)(0.76,5.91)(0.78,6.0)(0.76,6.09)(0.70,6.15)(0,6.15)
(0,6.88)(0.69,6.88)(0.77,6.98)(0.78,7.1)(0.763,7.3)(0.78,7.5)(0.70,7.61)(0,7.62)
(0,8.56)(0.583,8.56)(0.643,8.604)(0.663,8.67)(0.643,8.736)(0.583,8.78)(0,8.78)
(0,9.27)(0.708,9.27)(0.768,9.344)(0.788,9.455)(0.768,9.566)(0.708,9.64)(0,9.64)(0,10.3)};
\end{axis}

% ================= Titles and labels =================
\ttl{193.5pt}{-16.5pt}{CzD23}
\ttl{583.5pt}{-16.5pt}{CzD23/BdD23}
\ttl{193.5pt}{-370.5pt}{CzD23/BdD24}
\ttl{583.5pt}{-370.5pt}{CzD23/BdT13}
\ttl{193.5pt}{-724.5pt}{CzD23/BdT24}
\ttl{583.5pt}{-724.5pt}{CzD23/BdT34}
\sub{118.1pt}{-45pt}{PBE0}
\sub{268.9pt}{-45pt}{CAM-B3LYP}
\sub{508.1pt}{-45pt}{PBE0}
\sub{658.9pt}{-45pt}{CAM-B3LYP}
\sub{118.1pt}{-398.25pt}{PBE0}
\sub{268.9pt}{-398.25pt}{CAM-B3LYP}
\sub{508.1pt}{-398.25pt}{PBE0}
\sub{658.9pt}{-398.25pt}{CAM-B3LYP}
\sub{118.1pt}{-751.5pt}{PBE0}
\sub{268.9pt}{-751.5pt}{CAM-B3LYP}
\sub{508.1pt}{-751.5pt}{PBE0}
\sub{658.9pt}{-751.5pt}{CAM-B3LYP}
\ylab{13.5pt}{-197.25pt}
\ylab{405pt}{-197.25pt}
\ylab{13.5pt}{-550.5pt}
\ylab{405pt}{-550.5pt}
\ylab{13.5pt}{-903.75pt}
\ylab{405pt}{-903.75pt}
\end{tikzpicture}
\end{document}
